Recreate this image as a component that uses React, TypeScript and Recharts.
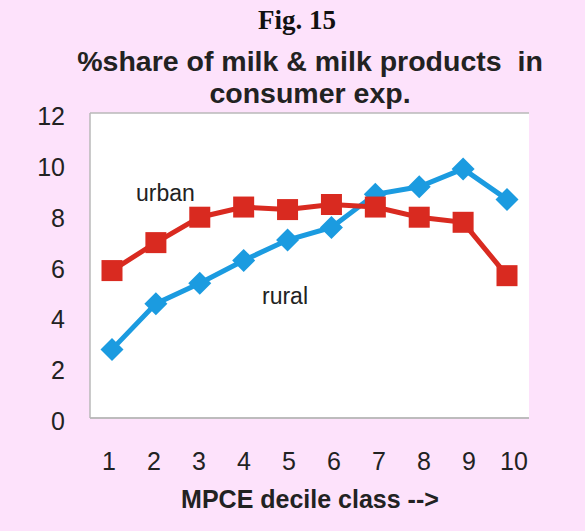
import React from "react";
import { LineChart, Line, XAxis, YAxis, CartesianGrid } from "recharts";

const DECILES = ["1", "2", "3", "4", "5", "6", "7", "8", "9", "10"];
const URBAN = [5.8, 6.9, 7.9, 8.3, 8.2, 8.4, 8.3, 7.9, 7.7, 5.6];
const RURAL = [2.7, 4.5, 5.3, 6.2, 7.0, 7.5, 8.8, 9.1, 9.8, 8.6];
const Y_TICKS = [0, 2, 4, 6, 8, 10, 12];

const RED = "#d92a20";
const BLUE = "#1b9be0";
const BG = "#fde2fb";
const GRID = "#b8b8b8";
const FONT = "Arial, 'Liberation Sans', Helvetica, sans-serif";

const data = DECILES.map((d, i) => ({ decile: d, urban: URBAN[i], rural: RURAL[i] }));

function SquareDot(props: any) {
  const { cx, cy } = props;
  if (cx == null || cy == null) return null;
  const s = 21;
  return <rect x={cx - s / 2} y={cy - s / 2} width={s} height={s} fill={RED} />;
}

function DiamondDot(props: any) {
  const { cx, cy } = props;
  if (cx == null || cy == null) return null;
  const r = 11.5;
  return (
    <path
      d={`M${cx},${cy - r} L${cx + r},${cy} L${cx},${cy + r} L${cx - r},${cy} Z`}
      fill={BLUE}
    />
  );
}

// tick labels in the original drift slightly right of the points
function XTick(props: any) {
  const { x, y, payload, index } = props;
  return (
    <text
      x={x - 3 + index * 1.1}
      y={y + 44}
      textAnchor="middle"
      fontSize={25}
      fontFamily={FONT}
      fill="#222"
    >
      {payload.value}
    </text>
  );
}

function YTick(props: any) {
  const { x, y, payload } = props;
  return (
    <text x={x - 17} y={y + 12} textAnchor="end" fontSize={25} fontFamily={FONT} fill="#222">
      {payload.value}
    </text>
  );
}

export default function App() {
  return (
    <div
      style={{
        position: "absolute",
        left: 0,
        top: 0,
        width: 585,
        height: 531,
        background: BG,
        fontFamily: FONT,
        overflow: "hidden",
      }}
    >
      <div
        style={{
          position: "absolute",
          top: 5,
          left: 0,
          width: 594,
          textAlign: "center",
          fontFamily: "'Times New Roman', 'Liberation Serif', serif",
          fontWeight: "bold",
          fontSize: 27,
          color: "#111",
        }}
      >
        Fig. 15
      </div>
      <div
        style={{
          position: "absolute",
          top: 45,
          left: 0,
          width: 620,
          textAlign: "center",
          fontWeight: "bold",
          fontSize: 28.5,
          lineHeight: "32px",
          color: "#222",
          whiteSpace: "pre",
        }}
      >
        {"%share of milk & milk products  in\nconsumer exp."}
      </div>

      <div style={{ position: "absolute", left: 0, top: 0 }}>
        <LineChart
          width={585}
          height={531}
          data={data}
          margin={{ top: 113, right: 56, left: 30, bottom: 53 }}
        >
          <CartesianGrid vertical={false} stroke={GRID} strokeWidth={1.5} fill="#ffffff" />
          <XAxis
            dataKey="decile"
            padding={{ left: 22, right: 22 }}
            tickLine={false}
            axisLine={{ stroke: GRID, strokeWidth: 1.5 }}
            tick={<XTick />}
            height={60}
            interval={0}
          />
          <YAxis
            yAxisId="left"
            domain={[0, 12]}
            ticks={Y_TICKS}
            width={60}
            tickLine={false}
            axisLine={{ stroke: GRID, strokeWidth: 1.5 }}
            tick={<YTick />}
          />
          <YAxis
            yAxisId="right"
            orientation="right"
            domain={[0, 12]}
            ticks={Y_TICKS}
            width={0}
            tick={false}
            tickLine={false}
            axisLine={{ stroke: GRID, strokeWidth: 1.5 }}
          />
          <Line
            yAxisId="left"
            type="linear"
            dataKey="rural"
            stroke={BLUE}
            strokeWidth={5}
            dot={<DiamondDot />}
            activeDot={false}
            isAnimationActive={false}
          />
          <Line
            yAxisId="left"
            type="linear"
            dataKey="urban"
            stroke={RED}
            strokeWidth={5}
            dot={<SquareDot />}
            activeDot={false}
            isAnimationActive={false}
          />
        </LineChart>
      </div>

      <div style={{ position: "absolute", left: 136, top: 180, fontSize: 23, color: "#222" }}>
        urban
      </div>
      <div style={{ position: "absolute", left: 262, top: 283, fontSize: 23, color: "#222" }}>
        rural
      </div>
      <div
        style={{
          position: "absolute",
          top: 485,
          left: 0,
          width: 620,
          textAlign: "center",
          fontWeight: "bold",
          fontSize: 25,
          color: "#222",
        }}
      >
        {"MPCE decile class -->"}
      </div>
    </div>
  );
}
